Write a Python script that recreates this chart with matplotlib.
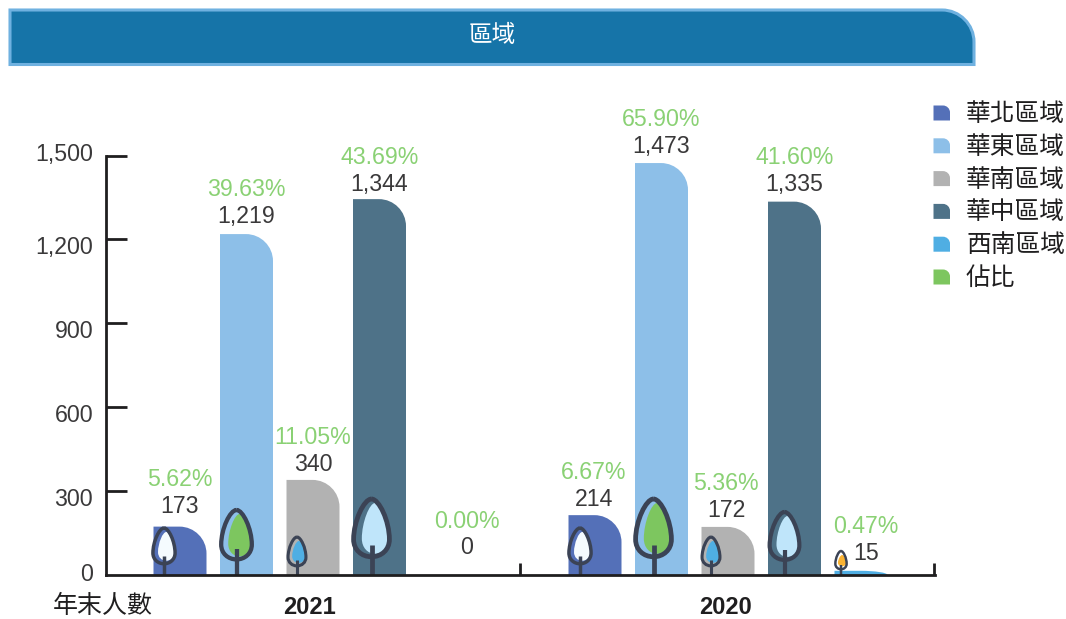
import matplotlib
matplotlib.use("Agg")
import matplotlib.pyplot as plt
from matplotlib.path import Path
from matplotlib.patches import PathPatch
from matplotlib.transforms import ScaledTranslation

# data
years = ["2021", "2020"]
regions = ["華北區域", "華東區域", "華南區域", "華中區域", "西南區域"]
values_2021 = [173, 1219, 340, 1344, 0]
values_2020 = [214, 1473, 172, 1335, 15]
share_2021 = ["5.62%", "39.63%", "11.05%", "43.69%", "0.00%"]
share_2020 = ["6.67%", "65.90%", "5.36%", "41.60%", "0.47%"]
y_ticks = [0, 300, 600, 900, 1200, 1500]

# styles
colors = ["#5470B8", "#8DBFE8", "#B2B2B2", "#4E7288", "#4FAEE3"]
green = "#7DC65F"
pct_color = "#8AD174"
ink = "#1F1E1F"
num_ink = "#3A393A"
tree_line = "#3B4355"
num_font = "Liberation Sans"
cjk = ["Noto Sans CJK TC", "DejaVu Sans"]

W, H = 1066, 619
X0, X1, Y0, Y1 = 105.5, 935, 575, 155.5
STEP = 66.5
BAR_W = 53 / STEP
SX = 1 / STEP
SY = 1500 / (Y0 - Y1)
GROUP_GAP = 415 / STEP
FIRST = 180

# tree decoration: (offset from bar centre in px, total height px), inner colour
trees_2021 = [(-16, 47, "#F5FBFE"), (-10, 65, green), (-16, 38, "#4FAEE3"), (-8, 76, "#BFE5FA")]
trees_2020 = [(-15, 47, "#F5FBFE"), (-8, 76, green), (-17, 38, "#4FAEE3"), (-10, 63, "#BFE5FA"), (-20, 24, "#F9B233")]

# label placement in px
value_up_2021 = [20, 18, 15, 15, 27]
value_up_2020 = [16, 17, 16, 17, 17]
label_dx_2021 = [0, 0, 0, 0, 21]
label_dx_2020 = [-1, 0, -2, 0, 5]
PCT_GAP = 27
tick_label_shift = [3, -6, -6, -6, -6, 3]

fig = plt.figure(figsize=(W / 100, H / 100), dpi=100)

# overlay in pixel coordinates for banner and legend
bg = fig.add_axes([0, 0, 1, 1])
bg.set_xlim(0, W)
bg.set_ylim(H, 0)
bg.axis("off")

ax = fig.add_axes([X0 / W, 1 - Y0 / H, (X1 - X0) / W, (Y0 - Y1) / H])
ax.patch.set_alpha(0)
ax.set_xlim((X0 - FIRST) * SX, (X1 - FIRST) * SX)
ax.set_ylim(0, 1500)


def corner_rect(x0, x1, y0, y1, rx, ry):
    # rectangle with only the top right corner rounded
    k = 0.45
    verts = [(x0, y0), (x0, y1), (x1 - rx, y1),
             (x1 - rx * k, y1), (x1, y1 - ry * k), (x1, y1 - ry),
             (x1, y0), (x0, y0)]
    codes = [Path.MOVETO, Path.LINETO, Path.LINETO,
             Path.CURVE4, Path.CURVE4, Path.CURVE4,
             Path.LINETO, Path.CLOSEPOLY]
    return Path(verts, codes)


def drop(cx, bottom, half_w, height):
    pts = [(0, 1), (0.42, 1), (1, 0.62), (1, 0.3), (1, 0.12), (0.55, 0), (0, 0),
           (-0.55, 0), (-1, 0.12), (-1, 0.3), (-1, 0.62), (-0.42, 1), (0, 1)]
    verts = [(cx + u * half_w, bottom + v * height) for u, v in pts]
    codes = [Path.MOVETO] + [Path.CURVE4] * 12
    return Path(verts, codes)


def tree(x, dx, h, fill):
    cx = x + dx * SX
    bulb_h = h * 0.76
    half = bulb_h * 0.31
    base = h - bulb_h
    lw = 1.0 + h * 0.032
    inner_half = half * 0.74
    ax.add_patch(PathPatch(drop(cx + half * 0.2 * SX, (base + 3) * SY, inner_half * SX, (bulb_h - 7) * SY),
                           fc=fill, ec="none", zorder=3))
    ax.add_patch(PathPatch(drop(cx, base * SY, half * SX, bulb_h * SY),
                           fc="none", ec=tree_line, lw=lw, zorder=4))
    ax.plot([cx, cx], [0, h * 0.4 * SY], color=tree_line, lw=lw, solid_capstyle="butt", zorder=4)


all_series = [(values_2021, share_2021, trees_2021, value_up_2021, label_dx_2021),
              (values_2020, share_2020, trees_2020, value_up_2020, label_dx_2020)]

for g, (values, shares, trees, ups, dxs) in enumerate(all_series):
    for i, v in enumerate(values):
        x = g * GROUP_GAP + i
        if v > 0:
            ry = min(27 * SY, v)
            ax.add_patch(PathPatch(corner_rect(x - BAR_W / 2, x + BAR_W / 2, 0, v, 27 * SX, ry),
                                   fc=colors[i], ec="none", zorder=2))
        ax.annotate(f"{v:,}", (x, v), xytext=(dxs[i] * 0.72, ups[i] * 0.72), textcoords="offset points",
                    ha="center", va="center", fontsize=16.7, color=num_ink, family=num_font,
                    annotation_clip=False, zorder=6)
        ax.annotate(shares[i], (x, v), xytext=(dxs[i] * 0.72, (ups[i] + PCT_GAP) * 0.72), textcoords="offset points",
                    ha="center", va="center", fontsize=16.7, color=pct_color, family=num_font,
                    annotation_clip=False, zorder=6)
    for i, (dx, h, fill) in enumerate(trees):
        tree(g * GROUP_GAP + i, dx, h, fill)

# axes
for s in ["top", "right"]:
    ax.spines[s].set_visible(False)
for s in ["left", "bottom"]:
    ax.spines[s].set_color(ink)
    ax.spines[s].set_linewidth(2.0)
    ax.spines[s].set_zorder(5)

ax.set_yticks(y_ticks)
ax.set_yticklabels([f"{t:,}" for t in y_ticks], family=num_font, fontsize=16.7, color=num_ink)
ax.tick_params(axis="y", direction="in", length=15, width=2.0, color=ink, pad=9)
ax.yaxis.get_major_ticks()[0].tick1line.set_visible(False)
for lab, shift in zip(ax.get_yticklabels(), tick_label_shift):
    lab.set_transform(lab.get_transform() + ScaledTranslation(0, shift / 100, fig.dpi_scale_trans))

centers = [(310 - FIRST) * SX, (726 - FIRST) * SX]
ax.set_xticks(centers)
ax.set_xticklabels(years, family="Liberation Sans", weight="bold", fontsize=17, color=ink)
ax.tick_params(axis="x", length=0, pad=15)
ax.set_xticks([(520 - FIRST) * SX, (934 - FIRST) * SX], minor=True)
ax.tick_params(axis="x", which="minor", direction="in", length=9, width=2.0, color=ink)
fig.text(53 / W, 1 - 606 / H, "年末人數", family=cjk, fontsize=18, color=ink, ha="left", va="center")

# banner
bg.add_patch(PathPatch(corner_rect(10, 974, 64.5, 10, 32, -32),
                       fc="#1674A8", ec="#6FB1E0", lw=2.2, zorder=1))
bg.text(492, 35, "區域", family=cjk, fontsize=17, weight="medium", color="white", ha="center", va="center")

# legend
legend_labels = regions + ["佔比"]
legend_colors = colors + [green]
for i, (lab, col) in enumerate(zip(legend_labels, legend_colors)):
    yc = 113 + i * 32.8
    bg.add_patch(PathPatch(corner_rect(933.5, 950, yc + 7.5, yc - 7.5, 7, -7), fc=col, ec="none"))
    bg.text(966, yc + 1, lab, family=cjk, fontsize=17.8, color=ink, ha="left", va="center")

fig.savefig("out.png", dpi=100)
